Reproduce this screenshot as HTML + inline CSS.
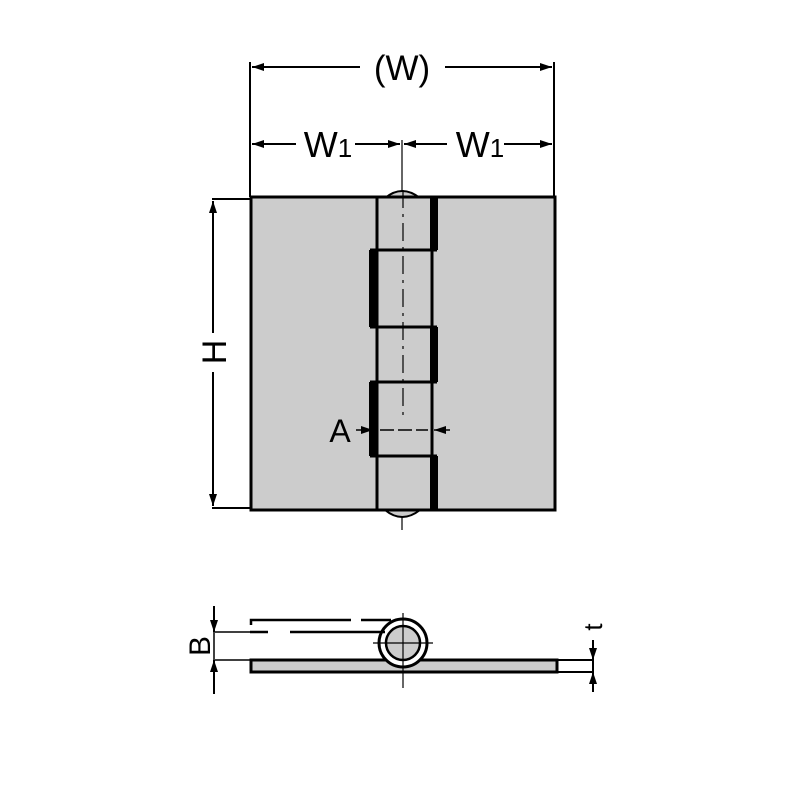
<!DOCTYPE html>
<html><head><style>body{margin:0;background:#fff}svg{display:block}</style></head><body>
<svg width="800" height="800" viewBox="0 0 800 800" xmlns="http://www.w3.org/2000/svg" font-family="Liberation Sans, sans-serif">
<defs>
<marker id="a" viewBox="0 0 12 8" refX="12" refY="4" markerWidth="12" markerHeight="8" orient="auto-start-reverse" markerUnits="userSpaceOnUse"><path d="M0,0 L12,4 L0,8 Z" fill="#000"/></marker>
</defs>
<g stroke="#000" stroke-width="2" fill="none">
<line x1="250" y1="62" x2="250" y2="197"/>
<line x1="554" y1="62" x2="554" y2="197"/>
<line x1="252" y1="67" x2="360" y2="67" marker-start="url(#a)"/>
<line x1="445" y1="67" x2="552" y2="67" marker-end="url(#a)"/>
<line x1="252" y1="144" x2="296" y2="144" marker-start="url(#a)"/>
<line x1="355" y1="144" x2="400" y2="144" marker-end="url(#a)"/>
<line x1="404" y1="144" x2="447" y2="144" marker-start="url(#a)"/>
<line x1="504" y1="144" x2="552" y2="144" marker-end="url(#a)"/>
<line x1="402" y1="140" x2="402" y2="530" stroke-width="1.2"/>
<line x1="212" y1="199" x2="250" y2="199"/>
<line x1="212" y1="508" x2="250" y2="508"/>
<line x1="213" y1="201" x2="213" y2="333" marker-start="url(#a)"/>
<line x1="213" y1="372" x2="213" y2="506" marker-end="url(#a)"/>
</g>
<text x="402" y="80" font-size="35" text-anchor="middle">(W)</text>
<text x="328" y="157" font-size="36" text-anchor="middle">W<tspan font-size="26">1</tspan></text>
<text x="480" y="157" font-size="36" text-anchor="middle">W<tspan font-size="26">1</tspan></text>
<text x="0" y="0" font-size="34" text-anchor="middle" transform="translate(226,352) rotate(-90)">H</text>
<path d="M385,198 Q402,184 420,198" fill="#ccc" stroke="#000" stroke-width="2"/>
<path d="M385,510 Q402,524 420,510" fill="#ccc" stroke="#000" stroke-width="2"/>
<rect x="251" y="197" width="304" height="313" fill="#ccc" stroke="#000" stroke-width="3"/>
<g stroke="#000" stroke-width="3" fill="none">
<line x1="377" y1="197" x2="377" y2="510"/>
<line x1="432" y1="197" x2="432" y2="510"/>
<line x1="370" y1="250" x2="437" y2="250"/>
<line x1="370" y1="327" x2="437" y2="327"/>
<line x1="370" y1="382" x2="437" y2="382"/>
<line x1="370" y1="456" x2="437" y2="456"/>
</g>
<g fill="#000">
<rect x="430" y="197" width="8" height="53"/>
<rect x="369" y="250" width="8" height="77"/>
<rect x="430" y="327" width="8" height="55"/>
<rect x="369" y="382" width="8" height="74"/>
<rect x="430" y="456" width="8" height="54"/>
</g>
<line x1="403" y1="190" x2="403" y2="420" stroke="#000" stroke-width="1.2" stroke-dasharray="18,6,3,6"/>
<g stroke="#000" stroke-width="1.5">
<line x1="356" y1="430" x2="373" y2="430" marker-end="url(#a)"/>
<line x1="380" y1="430" x2="428" y2="430" stroke-dasharray="14,4"/>
<line x1="450" y1="430" x2="434" y2="430" marker-end="url(#a)"/>
</g>
<text x="340" y="442" font-size="32" text-anchor="middle">A</text>
<rect x="251" y="660" width="306" height="12" fill="#ccc" stroke="#000" stroke-width="3"/>
<g stroke="#000" stroke-width="2.5" fill="none">
<line x1="557" y1="660" x2="593" y2="660" stroke-width="2"/>
<line x1="557" y1="672" x2="593" y2="672" stroke-width="2"/>
<circle cx="403" cy="643" r="24" stroke-width="3" fill="#fff"/>
<circle cx="403" cy="643" r="17" fill="#ccc" stroke-width="2.5"/>
<path d="M250,632 L385,632" stroke-dasharray="18,22,95"/>
<path d="M251,625 L251,620 L395,620" stroke-dasharray="105,10,30,8"/>
<line x1="215" y1="632" x2="250" y2="632" stroke-width="1.5"/>
<line x1="215" y1="660" x2="250" y2="660" stroke-width="1.5"/>
<line x1="214" y1="606" x2="214" y2="632" marker-end="url(#a)" stroke-width="2"/>
<line x1="214" y1="694" x2="214" y2="660" marker-end="url(#a)" stroke-width="2"/>
<line x1="214" y1="632" x2="214" y2="660" stroke-width="1.5"/>
<line x1="593" y1="640" x2="593" y2="660" marker-end="url(#a)" stroke-width="2"/>
<line x1="593" y1="692" x2="593" y2="672" marker-end="url(#a)" stroke-width="2"/>
<line x1="593" y1="660" x2="593" y2="672" stroke-width="2"/>
<line x1="403" y1="613" x2="403" y2="688" stroke-width="1.2"/>
<line x1="373" y1="643" x2="433" y2="643" stroke-width="1.2"/>
</g>
<text x="0" y="0" font-size="30" text-anchor="middle" transform="translate(210,646) rotate(-90)">B</text>
<text x="0" y="0" font-size="26" text-anchor="middle" transform="translate(602,627) rotate(-90)">t</text>
</svg>
</body></html>
